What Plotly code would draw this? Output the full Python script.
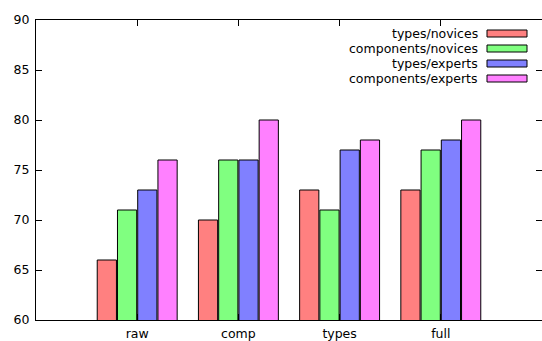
import plotly.graph_objects as go

categories = ["raw", "comp", "types", "full"]
series_names = ["types/novices", "components/novices", "types/experts", "components/experts"]
types_novices = [66, 70, 73, 73]
components_novices = [71, 76, 71, 77]
types_experts = [73, 76, 77, 78]
components_experts = [76, 80, 78, 80]
colors = ["#ff8080", "#80ff80", "#8080ff", "#ff80ff"]
y_ticks = [60, 65, 70, 75, 80, 85, 90]

series_values = [types_novices, components_novices, types_experts, components_experts]

FONT = "DejaVu Sans"
FS = 12.5
fig = go.Figure()
for name, vals, col in zip(series_names, series_values, colors):
    fig.add_trace(go.Bar(
        x=categories, y=vals, name=name,
        marker=dict(color=col, line=dict(color="black", width=1)),
        showlegend=False,
    ))

# gnuplot-like legend: right-aligned text, swatch on the right
for i, (name, col) in enumerate(zip(series_names, colors)):
    yc = 33.5 + i * 15
    fig.add_annotation(
        xref="paper", yref="paper", x=(479 - 36) / 506, y=(320 - yc) / 300,
        text=name, showarrow=False, xanchor="right", yanchor="middle",
        font=dict(family=FONT, size=FS, color="black"),
        borderpad=0,
    )
    fig.add_shape(
        type="rect", xref="paper", yref="paper",
        x0=(487 - 36) / 506, x1=(527 - 36) / 506,
        y0=(320 - yc - 3.5) / 300, y1=(320 - yc + 3.5) / 300,
        fillcolor=col, line=dict(color="black", width=1),
    )

axis_common = dict(
    showline=True, linecolor="black", linewidth=1, mirror="ticks",
    ticks="inside", ticklen=6, tickcolor="black", showgrid=False, zeroline=False,
    tickfont=dict(family=FONT, size=FS, color="black"),
)
fig.update_layout(
    width=542, height=341,
    margin=dict(l=36, r=0, t=20, b=21),
    plot_bgcolor="white", paper_bgcolor="white",
    barmode="group", bargap=0.2, bargroupgap=0.05,
    font=dict(family=FONT, size=FS, color="black"),
    xaxis=dict(range=[-1, 4], ticklabelstandoff=2, **axis_common),
    yaxis=dict(range=[60, 90], tickvals=y_ticks, ticklabelstandoff=3, **axis_common),
)
fig.write_html("out.html")
